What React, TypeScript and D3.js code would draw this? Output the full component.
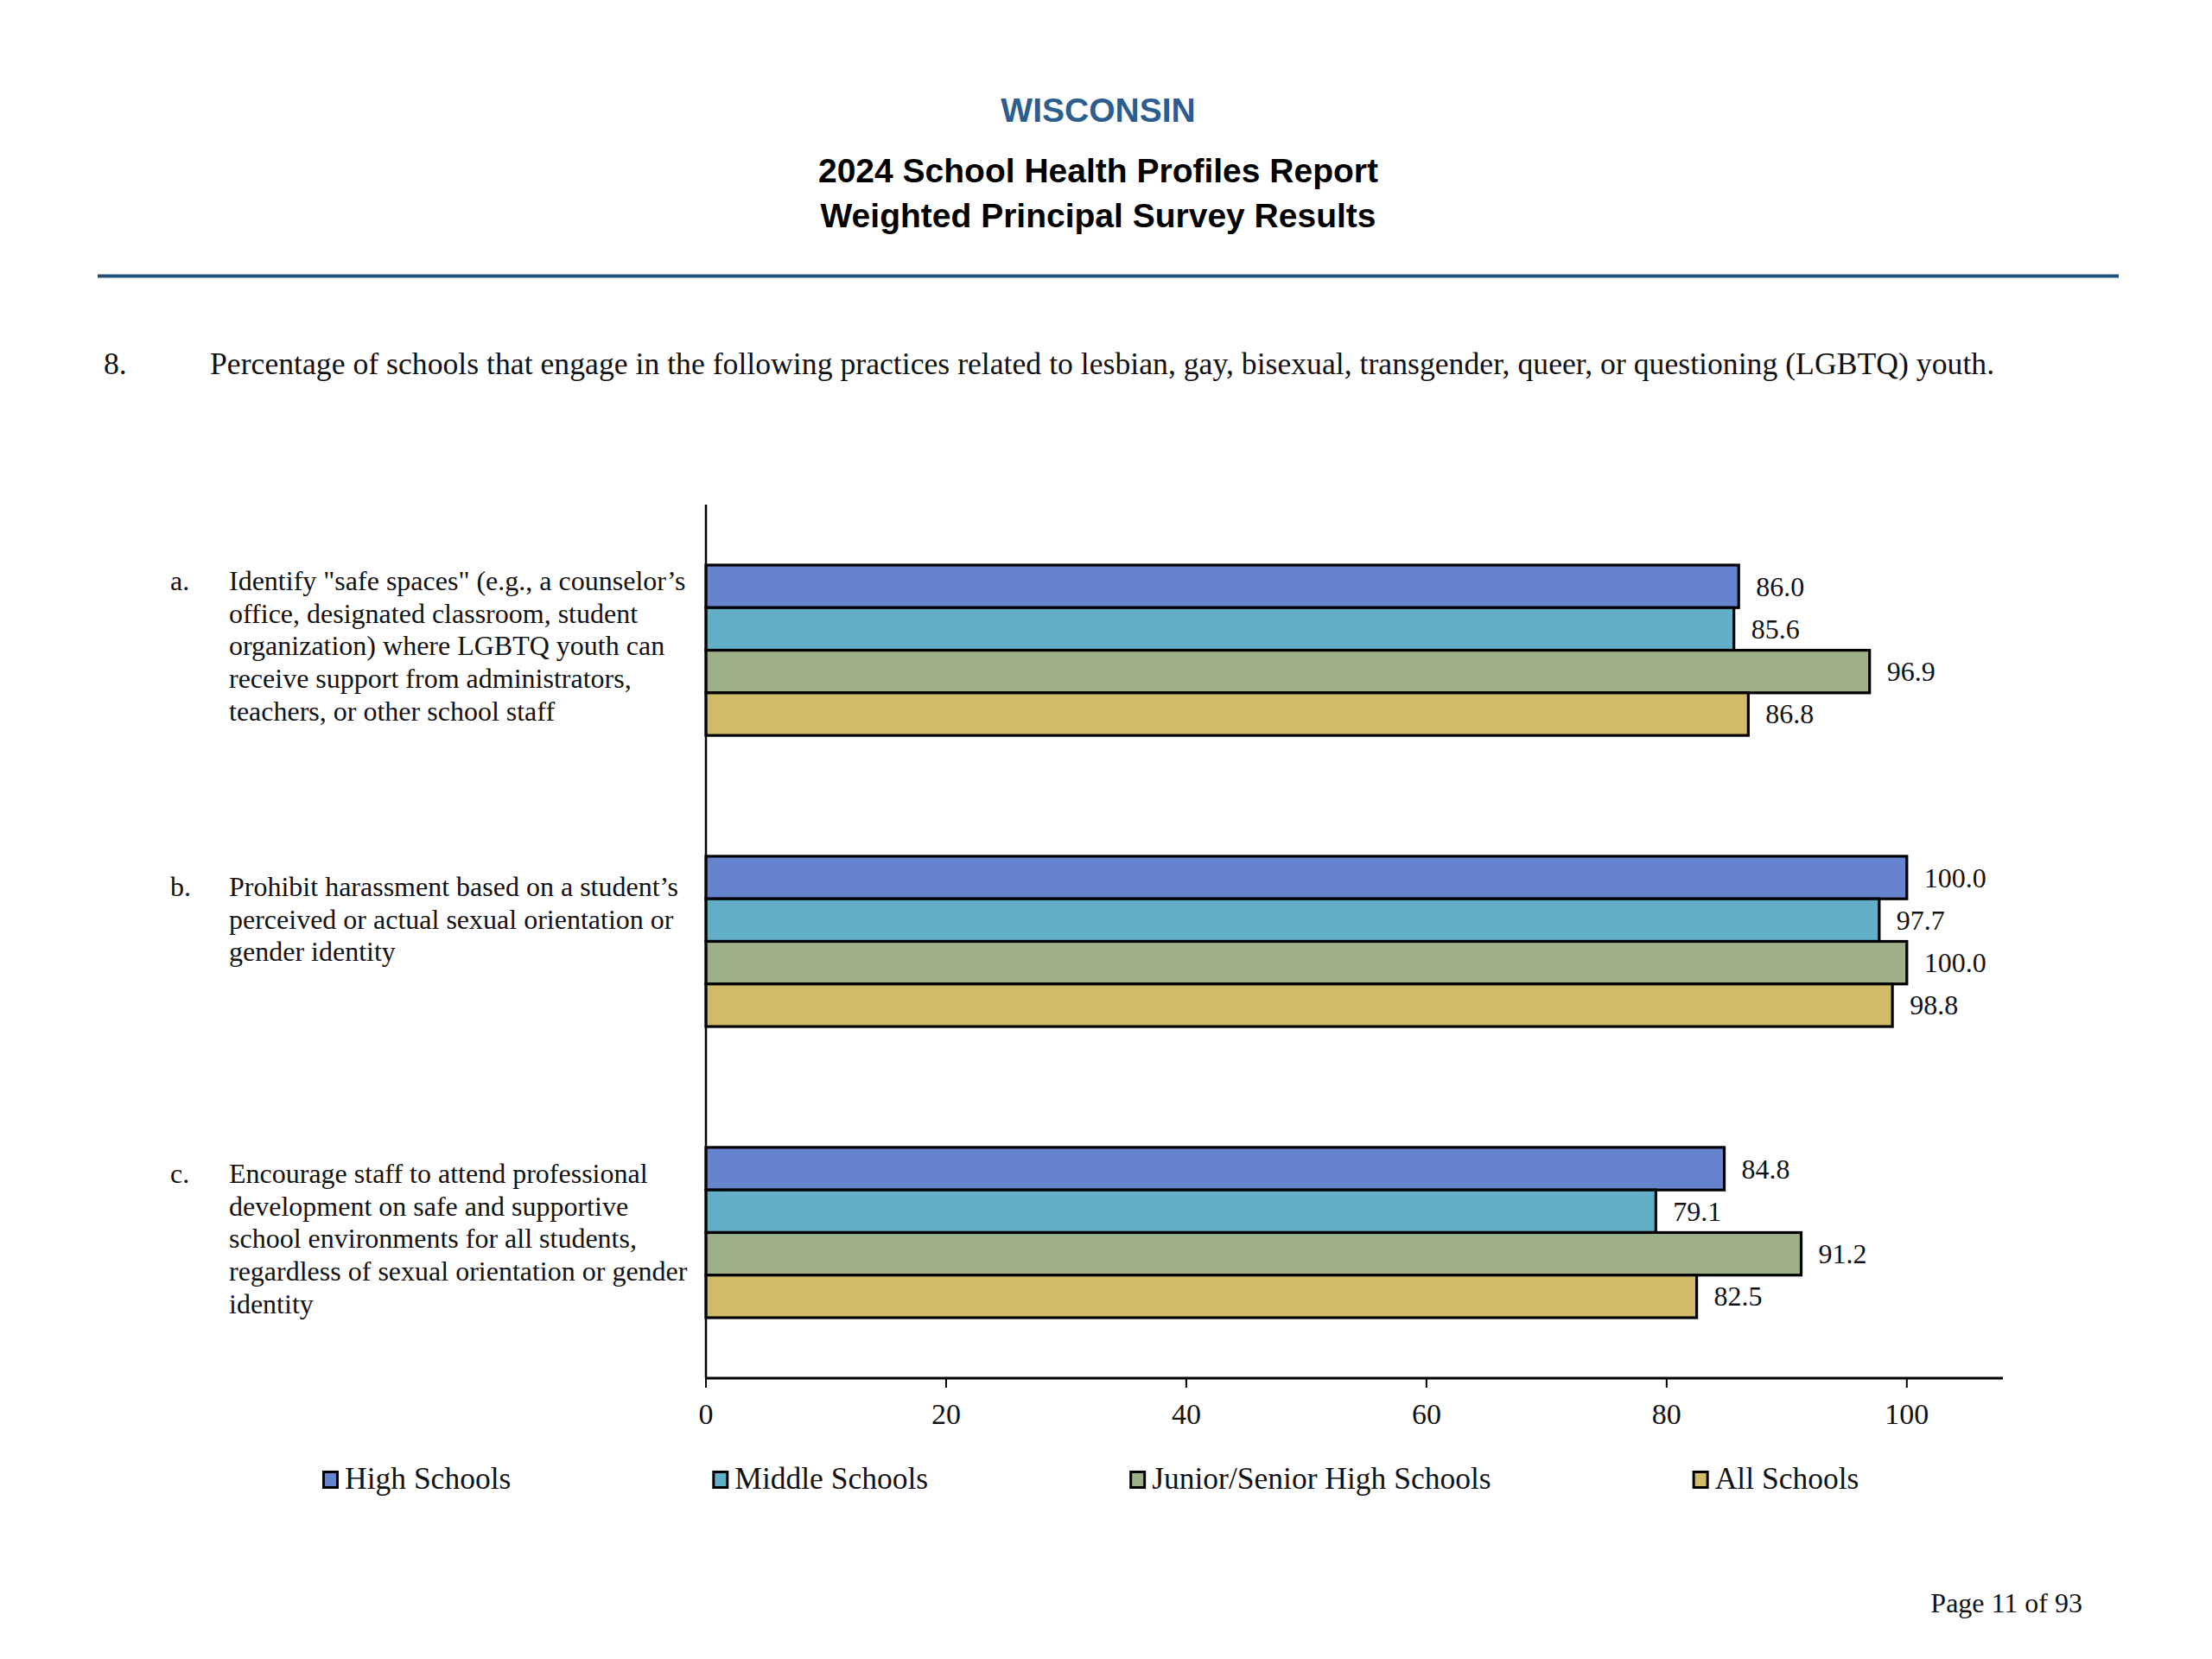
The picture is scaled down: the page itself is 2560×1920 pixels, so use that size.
import React, { useEffect, useRef } from "react";
import * as d3 from "d3";

// ---------- data ----------
const categories = ["a.", "b.", "c."];
const categoryLabels: string[][] = [
  [
    "Identify \"safe spaces\" (e.g., a counselor\u2019s",
    "office, designated classroom, student",
    "organization) where LGBTQ youth can",
    "receive support from administrators,",
    "teachers, or other school staff",
  ],
  [
    "Prohibit harassment based on a student\u2019s",
    "perceived or actual sexual orientation or",
    "gender identity",
  ],
  [
    "Encourage staff to attend professional",
    "development on safe and supportive",
    "school environments for all students,",
    "regardless of sexual orientation or gender",
    "identity",
  ],
];
const seriesNames = ["High Schools", "Middle Schools", "Junior/Senior High Schools", "All Schools"];
const highSchools = [86.0, 100.0, 84.8];
const middleSchools = [85.6, 97.7, 79.1];
const juniorSeniorHigh = [96.9, 100.0, 91.2];
const allSchools = [86.8, 98.8, 82.5];
const xTicks = [0, 20, 40, 60, 80, 100];
const seriesColors = ["#6684ce", "#64afc8", "#9eb087", "#d1bb68"];

// ---------- layout ----------
const W = 2560;
const H = 1920;
const SERIF = "'Liberation Serif', 'Times New Roman', serif";
const SANS = "'Liberation Sans', Arial, sans-serif";
const labelOffsets = [29, 46, 41];

export default function App() {
  const ref = useRef<SVGSVGElement | null>(null);

  useEffect(() => {
    const svg = d3.select(ref.current);
    svg.selectAll("*").remove();

    const series = [highSchools, middleSchools, juniorSeniorHigh, allSchools];

    // Header
    svg.append("text").attr("x", 1271).attr("y", 140.5).attr("text-anchor", "middle")
      .attr("font-family", SANS).attr("font-weight", "bold").attr("font-size", 39)
      .attr("fill", "#2c5d8f").text("WISCONSIN");
    svg.append("text").attr("x", 1271).attr("y", 210.5).attr("text-anchor", "middle")
      .attr("font-family", SANS).attr("font-weight", "bold").attr("font-size", 39)
      .attr("fill", "#000").text("2024 School Health Profiles Report");
    svg.append("text").attr("x", 1271).attr("y", 262.5).attr("text-anchor", "middle")
      .attr("font-family", SANS).attr("font-weight", "bold").attr("font-size", 39)
      .attr("fill", "#000").text("Weighted Principal Survey Results");
    svg.append("line").attr("x1", 113).attr("x2", 2452).attr("y1", 319.5).attr("y2", 319.5)
      .attr("stroke", "#1f4e7a").attr("stroke-width", 4);

    // Question
    svg.append("text").attr("x", 120).attr("y", 433)
      .attr("font-family", SERIF).attr("font-size", 35.7).attr("fill", "#111").text("8.");
    svg.append("text").attr("x", 243).attr("y", 433)
      .attr("font-family", SERIF).attr("font-size", 35.7).attr("fill", "#111")
      .text("Percentage of schools that engage in the following practices related to lesbian, gay, bisexual, transgender, queer, or questioning (LGBTQ) youth.");

    // Scales
    const x = d3.scaleLinear().domain([0, 108]).range([817, 2318]);
    const y = d3.scaleBand<string>().domain(categories).range([584, 1595])
      .paddingInner(0.415).paddingOuter(0.2077);
    const ySub = d3.scaleBand<number>().domain(d3.range(series.length)).range([0, y.bandwidth()]);

    // Bars
    const g = svg.append("g");
    categories.forEach((cat, ci) => {
      series.forEach((vals, si) => {
        const by = (y(cat) as number) + (ySub(si) as number);
        g.append("rect")
          .attr("x", x(0)).attr("y", by)
          .attr("width", x(vals[ci]) - x(0)).attr("height", ySub.bandwidth())
          .attr("fill", seriesColors[si]).attr("stroke", "#000").attr("stroke-width", 3.2);
        g.append("text")
          .attr("x", x(vals[ci]) + 20).attr("y", by + ySub.bandwidth() / 2 + 11)
          .attr("font-family", SERIF).attr("font-size", 32).attr("fill", "#111")
          .text(d3.format(".1f")(vals[ci]));
      });
      // category label
      const top = (y(cat) as number) + labelOffsets[ci];
      svg.append("text").attr("x", 197).attr("y", top)
        .attr("font-family", SERIF).attr("font-size", 32).attr("fill", "#111").text(cat);
      const t = svg.append("text").attr("font-family", SERIF).attr("font-size", 32).attr("fill", "#111");
      categoryLabels[ci].forEach((line, li) => {
        t.append("tspan").attr("x", 265).attr("y", top + li * 37.7).text(line);
      });
    });

    // Axes
    svg.append("line").attr("x1", x(0)).attr("x2", x(0)).attr("y1", 584).attr("y2", 1595)
      .attr("stroke", "#000").attr("stroke-width", 2.5);
    svg.append("line").attr("x1", x(0) - 1).attr("x2", 2318).attr("y1", 1595).attr("y2", 1595)
      .attr("stroke", "#000").attr("stroke-width", 3);
    xTicks.forEach((tv) => {
      svg.append("line").attr("x1", x(tv)).attr("x2", x(tv)).attr("y1", 1595).attr("y2", 1606)
        .attr("stroke", "#000").attr("stroke-width", 2);
      svg.append("text").attr("x", x(tv)).attr("y", 1648).attr("text-anchor", "middle")
        .attr("font-family", SERIF).attr("font-size", 34).attr("fill", "#111").text(String(tv));
    });

    // Legend
    let lx = 373;
    seriesNames.forEach((name, si) => {
      svg.append("rect").attr("x", lx + 1.5).attr("y", 1703.5).attr("width", 16).attr("height", 18)
        .attr("fill", seriesColors[si]).attr("stroke", "#000").attr("stroke-width", 3);
      const txt = svg.append("text").attr("x", lx + 26).attr("y", 1723)
        .attr("font-family", SERIF).attr("font-size", 35.5).attr("fill", "#111").text(name);
      const w = (txt.node() as SVGTextElement).getComputedTextLength();
      lx = lx + 26 + w + 233;
    });

    // Footer
    svg.append("text").attr("x", 2410).attr("y", 1866).attr("text-anchor", "end")
      .attr("font-family", SERIF).attr("font-size", 32).attr("fill", "#111").text("Page 11 of 93");
  }, []);

  return (
    <svg
      ref={ref}
      width={W}
      height={H}
      viewBox={`0 0 ${W} ${H}`}
      style={{ position: "absolute", left: 0, top: 0, background: "#fff", display: "block" }}
    />
  );
}
